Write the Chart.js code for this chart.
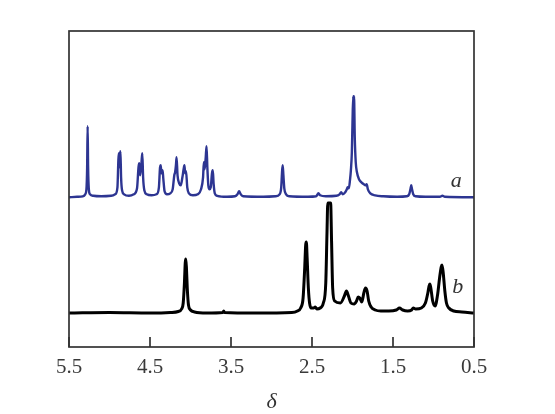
<!DOCTYPE html>
<html>
<head>
<meta charset="utf-8">
<script src="https://cdn.jsdelivr.net/npm/chart.js@4"></script>
<style>
  html, body { margin: 0; padding: 0; background: #fff; }
  #chart { display: block; }
</style>
</head>
<body>
<canvas id="chart" width="555" height="414"></canvas>
<script>
// chemical shift axis
const tickValues = [5.5, 4.5, 3.5, 2.5, 1.5, 0.5];

// spectrum a (blue), intensity above its own baseline
const aShift = [5.5, 5.4, 5.33, 5.3, 5.285, 5.276, 5.27, 5.264, 5.255, 5.24, 5.2, 5.1, 4.98, 4.93, 4.902, 4.89, 4.884, 4.878, 4.871, 4.865, 4.857, 4.845, 4.82, 4.76,
  4.7, 4.66, 4.642, 4.632, 4.622, 4.605, 4.595, 4.585, 4.57, 4.54, 4.48, 4.42, 4.39, 4.376, 4.368, 4.358, 4.345, 4.335, 4.32, 4.29,
  4.25, 4.22, 4.2, 4.19, 4.18, 4.172, 4.16, 4.14, 4.12, 4.1, 4.085, 4.075, 4.065, 4.055, 4.04, 4.02, 3.97,
  3.91, 3.87, 3.845, 3.835, 3.825, 3.812, 3.802, 3.792, 3.78, 3.765, 3.75, 3.735, 3.725, 3.715, 3.7, 3.67,
  3.55, 3.45, 3.42, 3.4, 3.38, 3.35, 3.1, 2.95, 2.9, 2.88, 2.87, 2.862, 2.853, 2.842, 2.82, 2.78,
  2.55, 2.45, 2.42, 2.4, 2.33, 2.2, 2.16, 2.14, 2.12, 2.09, 2.07, 2.06, 2.045, 2.03, 2.02, 2.008, 2.0, 1.991, 1.986, 1.981,
  1.972, 1.96, 1.945, 1.92, 1.89, 1.86, 1.84, 1.825, 1.81, 1.78, 1.72, 1.62, 1.45, 1.33, 1.3, 1.285, 1.275, 1.265, 1.25, 1.22,
  1.1, 0.92, 0.89, 0.86, 0.5];
const aIntensity = [0, 0.5, 1, 3, 8, 30, 71, 30, 8, 3, 1.5, 1, 1.5, 3, 10, 38, 44, 30, 40, 46, 20, 7, 3, 1.5,
  3, 9, 30, 34, 22, 35, 44, 20, 7, 3, 2, 3, 10, 30, 32, 24, 27, 18, 6, 3,
  4, 8, 22, 25, 32, 40, 22, 14, 12, 20, 28, 32, 24, 26, 10, 4, 2,
  3, 8, 20, 35, 28, 40, 51, 30, 12, 8, 10, 24, 27, 14, 4, 1.5,
  0.5, 1, 3, 6, 3, 1, 0.5, 1, 3, 10, 25, 32, 22, 9, 3, 1,
  0.5, 1, 4, 2, 1, 1.5, 3, 5, 3, 5, 8, 10, 9, 18, 27, 45, 75, 101, 92, 101,
  60, 35, 25, 18, 15, 13, 12, 13, 8, 4, 2, 1, 0.5, 1, 3, 8, 12, 8, 3, 1,
  0.5, 0.5, 1.5, 0.5, 0];

// spectrum b (black)
const bShift = [5.5, 5.0, 4.5, 4.25, 4.15, 4.11, 4.09, 4.075, 4.065, 4.058, 4.05, 4.04, 4.025, 4.0, 3.95, 3.8, 3.6, 3.59, 3.58, 3.2,
  2.75, 2.68, 2.64, 2.61, 2.59, 2.578, 2.57, 2.56, 2.545, 2.53, 2.51, 2.48, 2.46, 2.44, 2.4, 2.36, 2.33, 2.315, 2.305, 2.27, 2.258, 2.245,
  2.22, 2.15, 2.1, 2.075, 2.05, 2.02, 1.98, 1.95, 1.93, 1.91, 1.885, 1.86, 1.84, 1.82, 1.8, 1.77, 1.72, 1.65,
  1.55, 1.46, 1.42, 1.38, 1.32, 1.27, 1.25, 1.22, 1.15, 1.1, 1.07, 1.055, 1.045, 1.035, 1.01, 0.98, 0.95, 0.925, 0.905, 0.895,
  0.88, 0.86, 0.84, 0.81, 0.75, 0.65, 0.5];
const bIntensity = [0, 0.5, 0, 0.5, 1.5, 4, 10, 30, 50, 54, 45, 25, 8, 3, 1, 0, 0.5, 2, 0.5, 0,
  0.5, 2, 5, 15, 45, 68, 71, 55, 25, 10, 5, 5, 6, 4, 5, 10, 30, 80, 110, 110, 70, 25,
  12, 10, 17, 22, 17, 10, 9, 12, 16, 15, 11, 20, 25, 22, 12, 6, 3, 2,
  2, 3, 5, 3, 2, 3, 5, 4, 5, 10, 20, 27, 29, 26, 12, 7, 18, 35, 46, 48,
  40, 22, 10, 5, 2, 1, 0];

const aOffset = 115.7;
const labelFont = '"Liberation Serif", "DejaVu Serif", serif';

function toPoints(xs, ys, off) {
  return xs.map((x, i) => ({ x: x, y: ys[i] + off }));
}

// frame, inward ticks, axis symbol and trace labels
const framePlugin = {
  id: "frame",
  afterDraw(chart) {
    const ctx = chart.ctx;
    const area = chart.chartArea;
    const xs = chart.scales.x;
    const ys = chart.scales.y;
    ctx.save();
    ctx.strokeStyle = "#333";
    ctx.lineWidth = 1.7;
    ctx.strokeRect(area.left, area.top, area.right - area.left, area.bottom - area.top);
    ctx.beginPath();
    tickValues.forEach(v => {
      const px = xs.getPixelForValue(v);
      ctx.moveTo(px, area.bottom);
      ctx.lineTo(px, area.bottom - 10);
    });
    ctx.stroke();

    ctx.fillStyle = "#333";
    ctx.font = "italic 22px " + labelFont;
    ctx.textAlign = "center";
    ctx.textBaseline = "middle";
    ctx.fillText("a", xs.getPixelForValue(0.72), ys.getPixelForValue(132));
    ctx.fillText("b", xs.getPixelForValue(0.7), ys.getPixelForValue(26));
    ctx.fillText("δ", (area.left + area.right) / 2, area.bottom + 55);
    ctx.restore();
  }
};

new Chart(document.getElementById("chart"), {
  type: "line",
  data: {
    datasets: [
      {
        label: "a",
        data: toPoints(aShift, aIntensity, aOffset),
        borderColor: "#2d3592",
        borderWidth: 2.4,
        pointRadius: 0,
        cubicInterpolationMode: "monotone",
        fill: false
      },
      {
        label: "b",
        data: toPoints(bShift, bIntensity, 0),
        borderColor: "#000000",
        borderWidth: 3,
        pointRadius: 0,
        cubicInterpolationMode: "monotone",
        fill: false
      }
    ]
  },
  options: {
    responsive: false,
    animation: false,
    events: [],
    layout: { padding: { left: 69, right: 81, top: 31, bottom: 0 } },
    plugins: {
      legend: { display: false },
      tooltip: { enabled: false }
    },
    scales: {
      x: {
        type: "linear",
        reverse: true,
        min: 0.5,
        max: 5.5,
        grid: { display: false, drawTicks: false },
        border: { display: false },
        afterBuildTicks(scale) {
          scale.ticks = tickValues.map(v => ({ value: v }));
        },
        afterFit(scale) {
          scale.height = 67;
        },
        ticks: {
          padding: 8,
          color: "#3a3a3a",
          font: { family: labelFont, size: 21 },
          maxRotation: 0,
          autoSkip: false,
          callback: v => Number(v).toFixed(1)
        }
      },
      y: {
        display: false,
        min: -34,
        max: 282
      }
    }
  },
  plugins: [framePlugin]
});
</script>
</body>
</html>
